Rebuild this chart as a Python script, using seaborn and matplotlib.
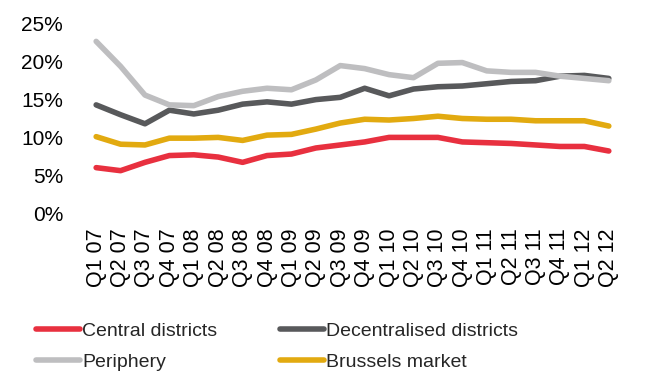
import matplotlib
matplotlib.use("Agg")
import matplotlib.pyplot as plt
import matplotlib.ticker as mticker
import seaborn as sns
import pandas as pd

quarters = ["Q1 07", "Q2 07", "Q3 07", "Q4 07", "Q1 08", "Q2 08", "Q3 08", "Q4 08",
            "Q1 09", "Q2 09", "Q3 09", "Q4 09", "Q1 10", "Q2 10", "Q3 10", "Q4 10",
            "Q1 11", "Q2 11", "Q3 11", "Q4 11", "Q1 12", "Q2 12"]

central = [6.0, 5.6, 6.7, 7.6, 7.7, 7.4, 6.7, 7.6, 7.8, 8.6, 9.0, 9.4,
           10.0, 10.0, 10.0, 9.4, 9.3, 9.2, 9.0, 8.8, 8.8, 8.2]
decentralised = [14.3, 13.0, 11.8, 13.6, 13.1, 13.6, 14.4, 14.7, 14.4, 15.0, 15.3, 16.5,
                 15.5, 16.4, 16.7, 16.8, 17.1, 17.4, 17.5, 18.1, 18.2, 17.8]
periphery = [22.7, 19.4, 15.6, 14.3, 14.2, 15.4, 16.1, 16.5, 16.3, 17.6, 19.5, 19.1,
             18.3, 17.9, 19.8, 19.9, 18.8, 18.6, 18.6, 18.1, 17.8, 17.5]
brussels = [10.1, 9.1, 9.0, 9.9, 9.9, 10.0, 9.6, 10.3, 10.4, 11.1, 11.9, 12.4,
            12.3, 12.5, 12.8, 12.5, 12.4, 12.4, 12.2, 12.2, 12.2, 11.5]

series_names = ["Central districts", "Decentralised districts", "Periphery", "Brussels market"]
series_values = [central, decentralised, periphery, brussels]
colors = ["#E8303F", "#58595B", "#BEBEC0", "#E2AA10"]

df = pd.DataFrame({
    "quarter": quarters * len(series_names),
    "rate": [v for vals in series_values for v in vals],
    "series": [n for n in series_names for _ in quarters],
})

sns.set_theme(style="white")
plt.rcParams["font.family"] = ["Liberation Sans", "DejaVu Sans"]

fig = plt.figure(figsize=(6.61, 3.72), dpi=100)
ax = fig.add_axes([0.127, 0.4274, 0.8125, 0.5081])

sns.lineplot(data=df, x="quarter", y="rate", hue="series", hue_order=series_names,
             palette=colors, linewidth=4, sort=False, legend=False, ax=ax)
for line in ax.lines:
    line.set_solid_capstyle("round")
    line.set_solid_joinstyle("round")

ax.set_xlim(-0.5, len(quarters) - 0.5)
ax.set_ylim(0, 25)
ax.set_yticks([0, 5, 10, 15, 20, 25])
ax.yaxis.set_major_formatter(mticker.FuncFormatter(lambda v, p: f"{v:.0f}%"))
ax.set_xticks(range(len(quarters)))
ax.set_xticklabels(quarters, rotation=90)
ax.tick_params(axis="both", length=0, labelsize=15, colors="black")
ax.tick_params(axis="x", pad=11, labelsize=15.5)
ax.tick_params(axis="y", pad=15)
ax.set_xlabel("")
ax.set_ylabel("")
for s in ax.spines.values():
    s.set_visible(False)

# legend filled column by column, so order entries to read row-wise
order = [0, 2, 1, 3]
handles = [plt.Line2D([], [], color=colors[i], linewidth=4, solid_capstyle="round") for i in order]
labels = [series_names[i] for i in order]
fig.legend(handles, labels, loc="upper left", bbox_to_anchor=(0.054, 0.1344),
           ncol=2, frameon=False, fontsize=14, handlelength=2.3, handletextpad=0.1,
           columnspacing=3.2, labelspacing=0.7, borderaxespad=0, borderpad=0)

fig.savefig("out.png", dpi=100)
